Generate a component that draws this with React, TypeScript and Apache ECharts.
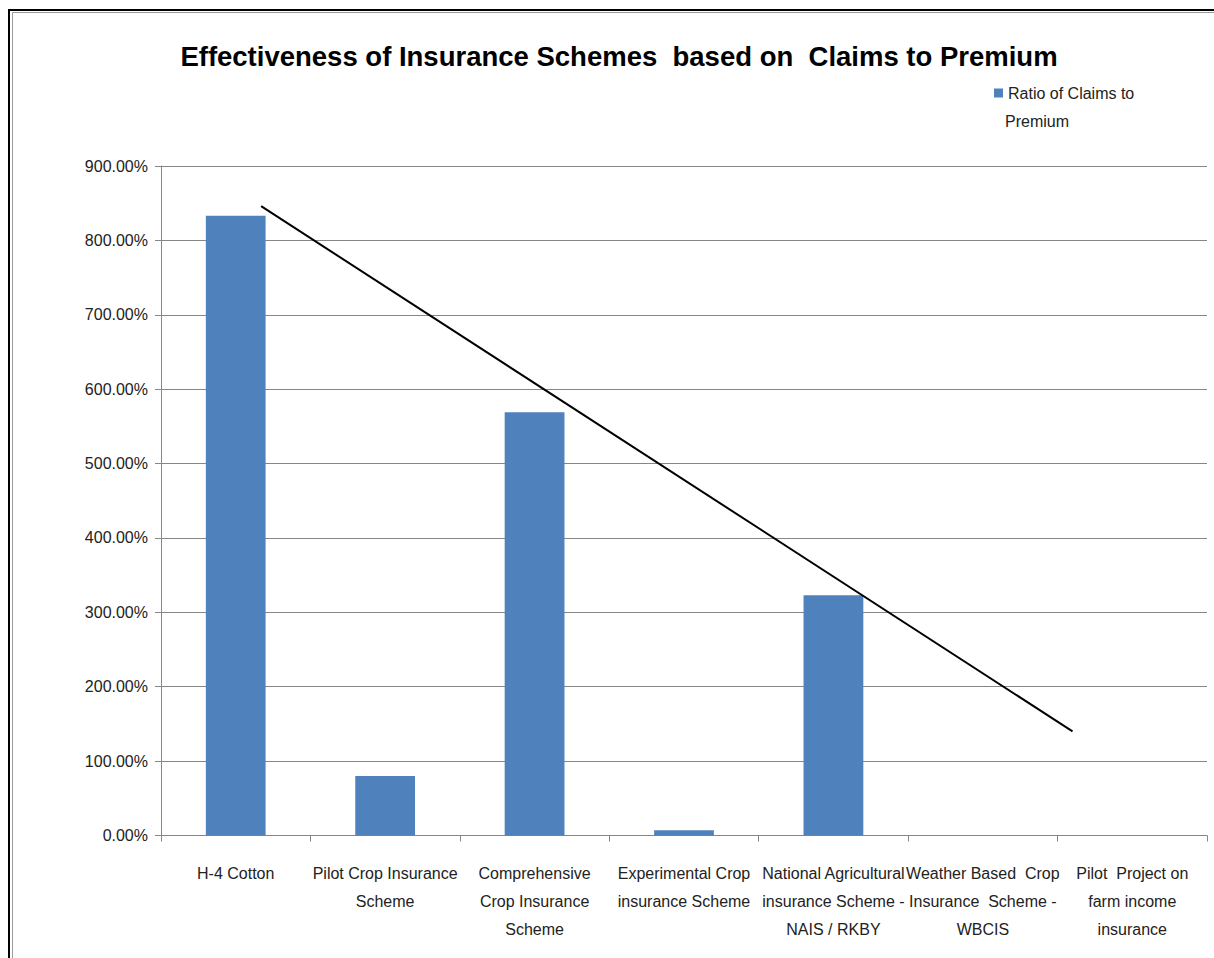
import React, { useEffect, useRef } from "react";
import * as echarts from "echarts";

const categories = [
  "H-4 Cotton",
  "Pilot Crop Insurance\nScheme",
  "Comprehensive\nCrop Insurance\nScheme",
  "Experimental Crop\ninsurance Scheme",
  "National Agricultural\ninsurance Scheme -\nNAIS / RKBY",
  "Weather Based  Crop\nInsurance  Scheme -\nWBCIS",
  "Pilot  Project on\nfarm income\ninsurance",
];

// Ratio of claims to premium, in percent
const ratioValues = [833, 80, 569, 7, 323, 0, 0];

// Hand-drawn trend line end points: [category position, percent]
const trendPoints = [
  [0.17, 846],
  [5.6, 140],
];

const FONT = "'Liberation Sans', Arial, sans-serif";

export default function App() {
  const ref = useRef<HTMLDivElement>(null);

  useEffect(() => {
    if (!ref.current) return;
    const chart = echarts.init(ref.current, null, { renderer: "svg" });
    chart.setOption({
      animation: false,
      backgroundColor: "#ffffff",
      textStyle: { fontFamily: FONT },
      title: {
        text: "Effectiveness of Insurance Schemes  based on  Claims to Premium",
        left: 614,
        top: 37,
        textAlign: "center",
        textStyle: {
          fontFamily: FONT,
          fontWeight: "bold",
          fontSize: 27.5,
          color: "#000000",
        },
      },
      legend: {
        left: 989,
        top: 80,
        icon: "rect",
        itemWidth: 9,
        itemHeight: 9,
        itemGap: 6,
        formatter: () => "Ratio of Claims to",
        textStyle: {
          fontFamily: FONT,
          fontSize: 16,
          color: "#222222",
        },
        data: ["Ratio of Claims to Premium"],
      },
      grid: {
        left: 161,
        right: 7,
        top: 166,
        bottom: 122.5,
        containLabel: false,
      },
      xAxis: [
        {
          type: "category",
          data: categories,
          axisLine: { lineStyle: { color: "#868686", width: 1 } },
          axisTick: { show: true, length: 6, lineStyle: { color: "#868686" } },
          axisLabel: {
            interval: 0,
            margin: 24,
            fontFamily: FONT,
            fontSize: 16,
            lineHeight: 28,
            color: "#222222",
          },
        },
        {
          type: "value",
          min: -0.5,
          max: 6.5,
          show: false,
        },
      ],
      yAxis: {
        type: "value",
        min: 0,
        max: 900,
        interval: 100,
        axisLine: { show: true, onZero: false, lineStyle: { color: "#868686" } },
        axisTick: { show: true, length: 6, lineStyle: { color: "#868686" } },
        splitLine: { lineStyle: { color: "#868686", width: 1 } },
        axisLabel: {
          margin: 13,
          fontFamily: FONT,
          fontSize: 16,
          color: "#222222",
          formatter: (v: number) => v.toFixed(2) + "%",
        },
      },
      series: [
        {
          name: "Ratio of Claims to Premium",
          type: "bar",
          data: ratioValues,
          barWidth: "40%",
          itemStyle: { color: "#4F81BD" },
        },
        {
          name: "Trend",
          type: "line",
          xAxisIndex: 1,
          data: trendPoints,
          symbol: "none",
          lineStyle: { color: "#000000", width: 2 },
        },
      ],
      graphic: [
        {
          type: "text",
          left: 1005,
          top: 113,
          style: {
            text: "Premium",
            font: "16px " + FONT,
            fill: "#222222",
          },
          silent: true,
        },
        {
          type: "rect",
          shape: { x: 9, y: 10, width: 1300, height: 1100 },
          style: { fill: "none", stroke: "#000000", lineWidth: 2 },
          silent: true,
        },
        {
          type: "rect",
          shape: { x: 12.5, y: 12.5, width: 1300, height: 1100 },
          style: { fill: "none", stroke: "#9a9a9a", lineWidth: 1 },
          silent: true,
        },
      ],
    });
    return () => chart.dispose();
  }, []);

  return (
    <div
      ref={ref}
      style={{ position: "fixed", left: 0, top: 0, width: 1214, height: 958 }}
    />
  );
}
